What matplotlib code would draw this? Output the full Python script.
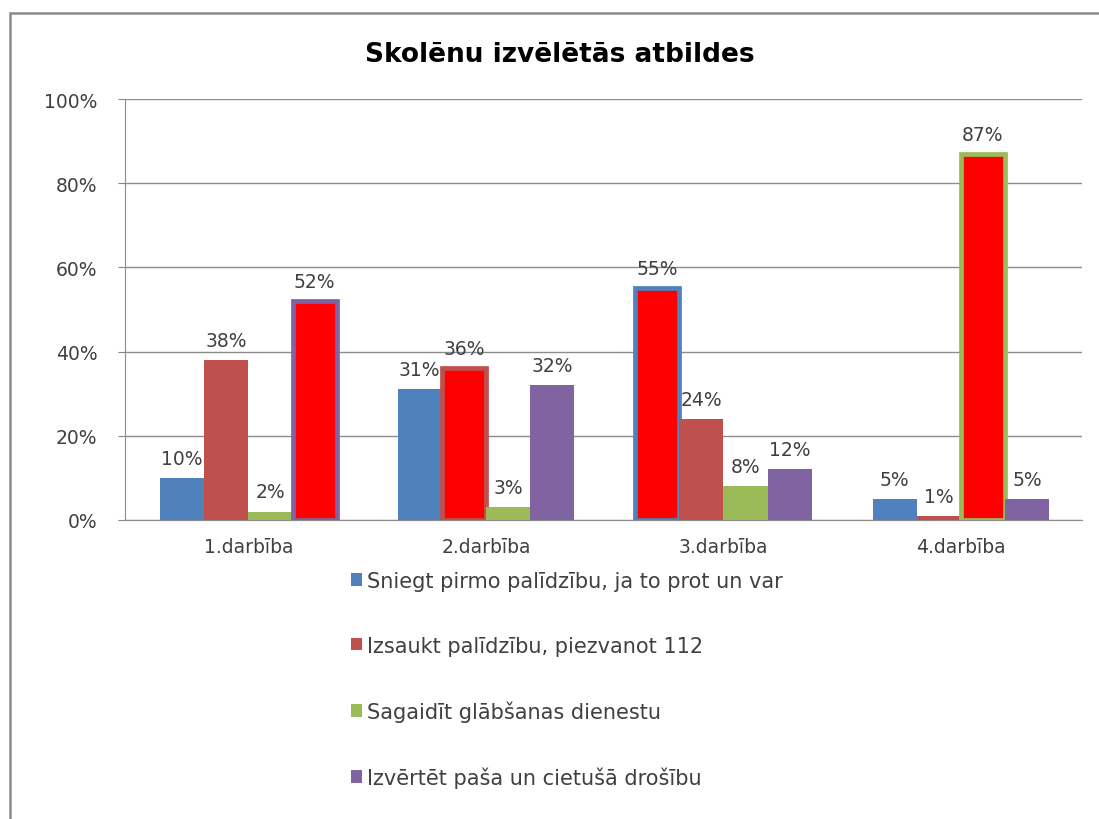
import numpy as np
import matplotlib
matplotlib.use("Agg")
import matplotlib.pyplot as plt
from matplotlib.patches import Patch, Rectangle

plt.rcParams["font.family"] = ["DejaVu Sans"]

# dati
kategorijas = ["1.darbība", "2.darbība", "3.darbība", "4.darbība"]
serijas = [
    "Sniegt pirmo palīdzību, ja to prot un var",
    "Izsaukt palīdzību, piezvanot 112",
    "Sagaidīt glābšanas dienestu",
    "Izvērtēt paša un cietušā drošību",
]
sniegt = [10, 31, 55, 5]
izsaukt = [38, 36, 24, 1]
sagaidit = [2, 3, 8, 87]
izvertet = [52, 32, 12, 5]
vertibas = [sniegt, izsaukt, sagaidit, izvertet]

krasas = ["#4F81BD", "#C0504D", "#9BBB59", "#8064A2"]
teksts = "#404040"

fig = plt.figure(figsize=(10.99, 8.20), dpi=100)
ax = fig.add_axes([125 / 1099, 1 - 521 / 820, 957 / 1099, 421 / 820])

x = np.arange(len(kategorijas))
w = 0.186
maks = np.argmax(np.array(vertibas), axis=0)  # lielākā atbilde katrā grupā

for s, (vals, c) in enumerate(zip(vertibas, krasas)):
    pos = x + (s - 1.5) * w
    for k in range(len(kategorijas)):
        if maks[k] == s:
            ax.bar(pos[k], vals[k], w, color="#FF0000", edgecolor=c,
                   linewidth=3.4, zorder=3)
        else:
            ax.bar(pos[k], vals[k], w, color=c, zorder=3)
        ax.text(pos[k], vals[k] + 2.4, f"{vals[k]}%", ha="center",
                va="bottom", fontsize=13.5, color=teksts, zorder=4)

ax.set_xlim(-0.52, 3.51)
ax.set_ylim(0, 100)
ax.set_yticks(range(0, 101, 20))
ax.set_yticklabels([f"{v}%" for v in range(0, 101, 20)])
ax.set_xticks(x)
ax.set_xticklabels(kategorijas)
ax.tick_params(axis="y", length=5, color="#888888", labelcolor=teksts,
               labelsize=13.5, pad=15)
ax.tick_params(axis="x", length=0, labelcolor=teksts, labelsize=13.5, pad=12)
ax.grid(axis="y", color="#8C8C8C", linewidth=1.0, zorder=0)
for side in ("top", "right"):
    ax.spines[side].set_visible(False)
ax.spines["left"].set_color("#8C8C8C")
ax.spines["bottom"].set_color("#8C8C8C")

fig.text(0.5096, 1 - 55 / 820, "Skolēnu izvēlētās atbildes", ha="center",
         va="center", fontsize=19, fontweight="bold", color="black")

rokturi = [Patch(facecolor=c, edgecolor="none") for c in krasas]
fig.legend(rokturi, serijas, loc="upper left",
           bbox_to_anchor=(332 / 1099, 1 - 553 / 820), frameon=False,
           fontsize=15, labelcolor=teksts, handlelength=0.55,
           handleheight=0.55, handletextpad=0.25, labelspacing=2.15)

# ārējais rāmis
fig.patches.append(Rectangle((10 / 1099, -0.05), 1.1, 1 - 14 / 820 + 0.05,
                             transform=fig.transFigure, fill=False,
                             edgecolor="#8A8A8A", linewidth=1.8))

fig.savefig("out.png", dpi=100)
